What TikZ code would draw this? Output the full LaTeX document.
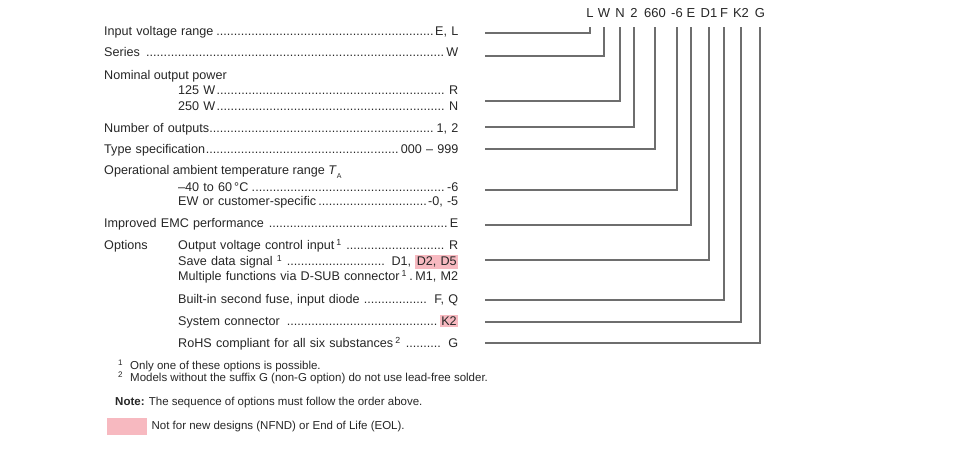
\documentclass[tikz,border=0pt]{standalone}
\usepackage{fontspec}
\setmainfont{Liberation Sans}
\usepackage{xcolor}
\usetikzlibrary{positioning}
\definecolor{nfnd}{HTML}{F7B9C0}
\definecolor{ink}{HTML}{262626}
\definecolor{wire}{HTML}{6E6E6E}
\newcommand{\rowdots}{\leaders\hbox to 0.278em{\hss.\hss}\hfill}
\newcommand{\eolmark}[1]{{\setlength{\fboxsep}{1.5pt}\colorbox{nfnd}{#1}}}

\begin{document}
\begin{tikzpicture}[
x=1pt,y=-1pt,
font=\fontsize{12.6}{15}\selectfont,
text=ink,
item/.style={anchor=base west,inner sep=0pt,text width=354pt},
subitem/.style={anchor=base west,inner sep=0pt,text width=280pt},
plain/.style={anchor=base west,inner sep=0pt},
code/.style={anchor=base,inner sep=0pt,text depth=0pt,outer ysep=9pt,font=\fontsize{13}{15}\selectfont},
wire/.style={draw=wire,line width=1.1pt},
note/.style={anchor=base west,inner sep=0pt,font=\fontsize{11.5}{13}\selectfont}
]
    \useasboundingbox (0,0) rectangle (960,452);

    % Type designation
    \node[code] (cL) at (590,17.7) {L};
    \node[code] (cW) at (604,17.7) {W};
    \node[code] (cN) at (620,17.7) {N};
    \node[code] (cTwo) at (634,17.7) {2};
    \node[code] (cType) at (655,17.7) {660};
    \node[code] (cTemp) at (677,17.7) {-6};
    \node[code] (cE) at (691,17.7) {E};
    \node[code] (cD) at (709,17.7) {D1};
    \node[code] (cF) at (724,17.7) {F};
    \node[code] (cK) at (741,17.7) {K2};
    \node[code] (cG) at (760,17.7) {G};

    % Key list
    \node[item] (inp) at (104,35.5) {Input voltage range\rowdots E, L};
    \node[item] (ser) at (104,56.5) {Series \rowdots W};
    \node[plain] (nom) at (104,79.5) {Nominal output power};
    \node[subitem] (pA) at (178,94.5) {125 W\rowdots\ R};
    \node[subitem] (pB) at (178,110.5) {250 W\rowdots\ N};
    \node[item] (outs) at (104,132.5) {Number of outputs\rowdots 1, 2};
    \node[item] (type) at (104,153.5) {Type specification\rowdots 000 – 999};
    \node[plain] (temp) at (104,174.5) {Operational ambient temperature range \textit{T}\raisebox{-0.6ex}{\fontsize{7}{8}\selectfont A}};
    \node[subitem] (tA) at (178,191.5) {–40 to 60\,°C\rowdots -6};
    \node[subitem] (tB) at (178,205.5) {EW or customer-specific\rowdots -0, -5};
    \node[item] (emc) at (104,227.5) {Improved EMC performance \rowdots E};
    \node[plain] (opt) at (104,249.5) {Options};
    \node[subitem] (ctl) at (178,249.5) {Output voltage control input\,\textsuperscript{1} \rowdots\ R};
    \node[subitem] (sav) at (178,265.5) {Save data signal \textsuperscript{1} \rowdots\ D1, \eolmark{D2, D5}};
    \node[subitem] (mul) at (178,280.5) {Multiple functions via D-SUB connector\,\textsuperscript{1}\,\rowdots\,M1, M2};
    \node[subitem] (fus) at (178,303.5) {Built-in second fuse, input diode \rowdots\ F, Q};
    \node[subitem] (sys) at (178,325.5) {System connector \rowdots\eolmark{K2}};
    \node[subitem] (rohs) at (178,347.5) {RoHS compliant for all six substances\,\textsuperscript{2} \rowdots\ G};

    % Connectors
    \draw
      (485,33) coordinate (sL)
      (485,56) coordinate (sW)
      (485,101) coordinate (sN)
      (485,127) coordinate (sTwo)
      (485,149) coordinate (sType)
      (485,190) coordinate (sTemp)
      (485,225) coordinate (sE)
      (485,260) coordinate (sD)
      (485,300) coordinate (sF)
      (485,322) coordinate (sK)
      (485,343) coordinate (sG);

    \draw[wire] (sL) -| (cL.south);
    \draw[wire] (sW) -| (cW.south);
    \draw[wire] (sN) -| (cN.south);
    \draw[wire] (sTwo) -| (cTwo.south);
    \draw[wire] (sType) -| (cType.south);
    \draw[wire] (sTemp) -| (cTemp.south);
    \draw[wire] (sE) -| (cE.south);
    \draw[wire] (sD) -| (cD.south);
    \draw[wire] (sF) -| (cF.south);
    \draw[wire] (sK) -| (cK.south);
    \draw[wire] (sG) -| (cG.south);

    % Footnotes
    \node[note] (fnA) at (118,369.5) {\makebox[12pt][l]{\textsuperscript{1}}Only one of these options is possible.};
    \node[note] (fnB) at (118,381.5) {\makebox[12pt][l]{\textsuperscript{2}}Models without the suffix G (non-G option) do not use lead-free solder.};
    \node[note] (fnC) at (115,405) {\textbf{Note:} The sequence of options must follow the order above.};
    \node[fill=nfnd,minimum width=40pt,minimum height=17pt,inner sep=0pt,anchor=north west] (eolkey) at (107,418) {};
    \node[note,right=4pt of eolkey] (eoltext) {Not for new designs (NFND) or End of Life (EOL).};
\end{tikzpicture}
\end{document}
